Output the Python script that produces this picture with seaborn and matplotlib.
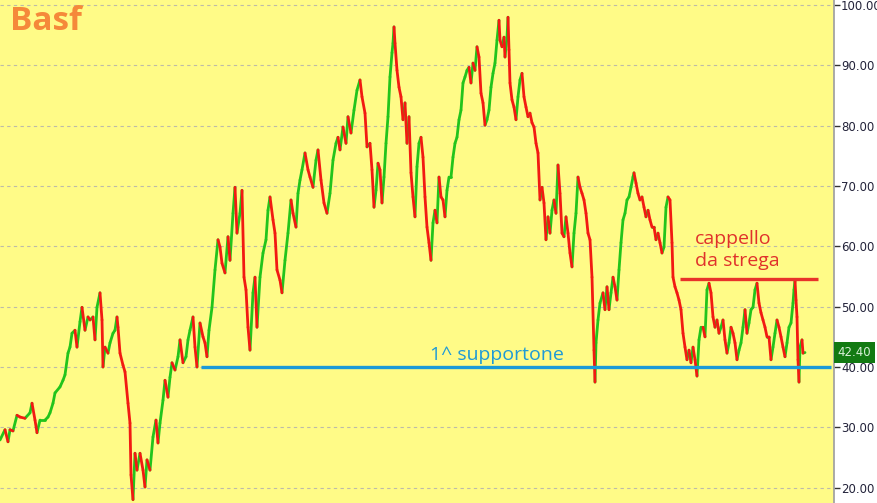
import matplotlib
matplotlib.use('Agg')
import matplotlib.pyplot as plt
import matplotlib.transforms as mtransforms
import seaborn as sns
import pandas as pd

# bar position (time index) and closing price
bar_idx = [0, 5, 8, 10, 13, 17, 20, 25, 30, 32, 35, 37, 40, 45, 48, 50, 53, 55, 60, 63,
           65, 68, 70, 72, 75, 77, 80, 82, 85, 88, 90, 93, 95, 97, 100, 102, 103, 105, 108, 110,
           113, 115, 117, 118, 120, 123, 125, 128, 130, 131, 133, 135, 137, 140, 143, 145, 147, 150, 153, 156,
           158, 160, 163, 165, 168, 170, 172, 175, 178, 180, 183, 186, 188, 190, 193, 195, 197, 200, 203, 205,
           207, 209, 212, 215, 218, 220, 222, 225, 228, 230, 233, 235, 237, 240, 242, 244, 246, 248, 250, 253,
           255, 257, 260, 263, 266, 268, 270, 273, 275, 277, 280, 282, 285, 288, 291, 293, 296, 298, 300, 302,
           305, 308, 310, 313, 316, 318, 321, 324, 327, 330, 333, 336, 338, 340, 343, 346, 348, 351, 354, 357,
           360, 362, 365, 367, 370, 372, 374, 376, 378, 380, 382, 384, 386, 388, 390, 392, 393, 394, 395, 397,
           399, 401, 403, 405, 407, 409, 411, 413, 415, 417, 419, 421, 423, 425, 427, 429, 431, 433, 435, 437,
           439, 441, 443, 445, 447, 449, 451, 453, 455, 457, 459, 461, 463, 465, 467, 469, 471, 473, 475, 477,
           479, 481, 483, 485, 487, 489, 491, 493, 495, 497, 499, 500, 502, 504, 505, 507, 508, 509, 510, 512,
           514, 516, 518, 520, 522, 524, 526, 528, 530, 532, 534, 536, 538, 540, 542, 544, 546, 548, 550, 552,
           554, 556, 558, 560, 562, 564, 566, 568, 570, 572, 574, 576, 578, 580, 582, 584, 586, 588, 590, 592,
           594, 595, 596, 598, 600, 603, 605, 607, 609, 611, 613, 615, 617, 619, 621, 623, 625, 627, 629, 631,
           633, 634, 636, 638, 640, 642, 644, 646, 648, 650, 652, 654, 656, 658, 660, 662, 664, 666, 668, 670,
           672, 673, 675, 677, 679, 681, 683, 685, 687, 689, 691, 693, 695, 697, 699, 701, 703, 705, 707, 709,
           711, 713, 715, 717, 719, 721, 723, 725, 727, 729, 731, 733, 735, 737, 739, 741, 743, 745, 747, 749,
           751, 753, 755, 757, 759, 761, 763, 765, 767, 769, 771, 773, 775, 777, 779, 781, 783, 785, 787, 789,
           791, 793, 794, 795, 796, 797, 798, 799, 800, 802, 803, 805]

close = [27.9, 29.6, 27.6, 29.6, 29.4, 32.0, 31.7, 31.5, 32.4, 34.0, 31.2, 29.1, 31.2, 31.2, 31.7, 32.4, 34.0, 35.7, 36.7, 37.8,
         38.7, 42.3, 43.3, 45.6, 46.1, 43.3, 47.5, 49.9, 46.1, 48.3, 47.8, 48.3, 44.5, 49.9, 52.3, 47.8, 40.0, 43.3, 42.3, 44.0,
         45.6, 46.1, 48.3, 46.6, 42.3, 40.3, 39.2, 34.0, 30.7, 22.1, 18.0, 25.7, 22.9, 25.7, 22.9, 20.1, 24.6, 22.9, 28.4, 31.2,
         27.4, 30.7, 34.5, 37.8, 35.0, 38.3, 40.7, 39.5, 41.7, 44.5, 40.7, 41.7, 44.5, 46.1, 48.3, 43.3, 40.0, 47.3, 45.0, 44.0,
         41.7, 46.1, 49.9, 56.1, 61.1, 59.9, 57.2, 55.6, 61.6, 57.7, 65.5, 69.8, 62.2, 65.5, 69.3, 54.9, 52.8, 46.6, 42.8, 52.3,
         54.9, 46.6, 54.9, 58.9, 61.1, 66.0, 68.2, 64.4, 62.2, 56.1, 54.4, 52.3, 57.7, 62.2, 67.7, 65.5, 63.2, 68.8, 71.0, 72.7,
         75.5, 72.7, 71.5, 69.8, 74.3, 76.0, 71.0, 67.2, 65.5, 68.8, 74.3, 77.1, 78.1, 76.0, 79.8, 77.1, 81.5, 78.8, 82.6, 85.9,
         87.6, 84.8, 82.1, 76.5, 77.1, 72.7, 66.5, 69.3, 73.8, 72.7, 67.2, 71.5, 77.1, 81.5, 88.1, 92.1, 93.7, 96.4, 93.7, 89.2,
         86.4, 84.8, 81.0, 83.8, 77.1, 81.5, 72.2, 68.2, 64.9, 73.2, 77.1, 78.1, 74.8, 68.2, 63.2, 60.6, 57.7, 63.9, 66.0, 63.9,
         71.5, 68.2, 67.7, 64.9, 69.3, 71.5, 71.5, 74.8, 77.1, 78.1, 81.0, 82.6, 87.1, 88.1, 89.2, 89.7, 87.1, 90.4, 89.2, 93.1,
         91.4, 85.4, 83.8, 80.1, 81.0, 82.6, 86.4, 88.7, 90.4, 94.2, 97.5, 94.2, 93.1, 94.7, 91.4, 94.7, 98.0, 92.6, 87.1, 84.3,
         83.1, 81.0, 84.8, 87.6, 88.7, 84.8, 83.1, 81.5, 82.1, 80.5, 79.8, 77.1, 75.5, 67.7, 69.8, 67.2, 61.1, 64.9, 62.2, 66.0,
         67.7, 65.5, 73.5, 68.8, 62.2, 61.6, 64.9, 62.2, 58.9, 56.6, 62.2, 65.5, 71.5, 69.8, 68.8, 67.7, 65.5, 62.2, 61.1, 54.9,
         42.8, 37.5, 44.0, 47.8, 50.6, 52.3, 49.5, 53.3, 49.5, 52.3, 54.9, 53.3, 51.1, 56.1, 60.6, 64.4, 65.5, 67.7, 68.2, 69.8,
         71.5, 72.2, 70.5, 68.8, 67.7, 68.2, 66.5, 64.9, 66.0, 64.4, 63.2, 63.2, 61.1, 62.2, 60.6, 58.9, 59.9, 66.5, 68.2, 67.7,
         60.6, 54.9, 53.3, 52.3, 51.1, 49.5, 45.6, 43.3, 41.2, 42.8, 40.7, 43.3, 41.2, 38.5, 44.5, 46.6, 46.6, 45.0, 52.8, 53.9,
         52.3, 48.3, 46.6, 47.8, 45.6, 46.6, 47.8, 44.5, 42.3, 44.0, 46.6, 45.6, 44.0, 41.2, 42.8, 44.0, 46.6, 49.5, 45.6, 47.3,
         49.5, 49.9, 52.8, 53.9, 50.6, 49.0, 47.8, 46.6, 45.0, 45.0, 41.2, 43.3, 45.6, 47.8, 46.6, 45.0, 43.3, 41.7, 44.0, 46.6,
         47.3, 50.6, 52.8, 54.4, 51.1, 48.3, 41.2, 37.5, 43.3, 44.5, 42.3, 42.4]

last_price = 42.40
support_level = 40.0
support_from = 201
hat_level = 54.6
hat_from, hat_to = 680, 818
y_ticks = [20, 30, 40, 50, 60, 70, 80, 90, 100]

sns.set_theme(style='white')
plt.rcParams['font.family'] = ['Open Sans', 'DejaVu Sans']

# one little segment per bar, coloured by direction
rows = []
for i in range(1, len(close)):
    move = 'up' if close[i] >= close[i - 1] else 'down'
    rows.append((i, bar_idx[i - 1], close[i - 1], move))
    rows.append((i, bar_idx[i], close[i], move))
seg = pd.DataFrame(rows, columns=['seg', 'bar', 'price', 'move'])

fig = plt.figure(figsize=(8.77, 5.03), dpi=100, facecolor='white')
ax = fig.add_axes([0, 0, 834 / 877, 1])
ax.set_facecolor('#fffb87')

sns.lineplot(data=seg, x='bar', y='price', hue='move', units='seg', estimator=None,
             palette={'up': '#22c41c', 'down': '#f21a12'}, lw=2.0, legend=False,
             sort=False, ax=ax)

ax.set_xlim(0, 834)
ax.set_ylim(17.45, 100.86)
ax.set_xticks([])
ax.set_yticks(y_ticks)
ax.set_yticklabels([f'{v:.2f}' for v in y_ticks])
ax.yaxis.tick_right()
ax.tick_params(axis='y', right=True, left=False, length=4, width=1, color='#333333',
               labelsize=8.5, labelcolor='#23233a', pad=1)
for tl in ax.get_yticklabels():
    tl.set_family('DejaVu Sans')
ax.grid(axis='y', ls=(0, (3, 3)), color='#bdbba8', lw=0.8)
ax.set_axisbelow(True)
ax.set_xlabel('')
ax.set_ylabel('')
for side in ['left', 'top', 'bottom']:
    ax.spines[side].set_visible(False)
ax.spines['right'].set_color('#a0a0a0')

ax.hlines(support_level, support_from, 831, color='#1a9ad8', lw=2.4, zorder=5)
ax.hlines(hat_level, hat_from, hat_to, color='#e8322a', lw=2.4, zorder=5)

ax.text(0.012, 0.99, 'Basf', transform=ax.transAxes, ha='left', va='top',
        color='#f5893a', fontsize=24, fontweight='bold')
ax.text(497, support_level + 0.5, '1^ supportone', ha='center', va='bottom',
        color='#1e9ad6', fontsize=14)
ax.text(695, 62.8, 'cappello\nda strega', ha='left', va='top',
        color='#e0312b', fontsize=14, linespacing=1.3)

trans = mtransforms.blended_transform_factory(ax.transAxes, ax.transData)
ax.text(1.004, last_price, f'{last_price:.2f}', transform=trans, ha='left', va='center',
        color='#d8f0d8', fontsize=8.5, family='DejaVu Sans', clip_on=False,
        bbox=dict(boxstyle='square,pad=0.3', fc='#127a12', ec='none'))

fig.savefig('out.png', dpi=100)
plt.close()
